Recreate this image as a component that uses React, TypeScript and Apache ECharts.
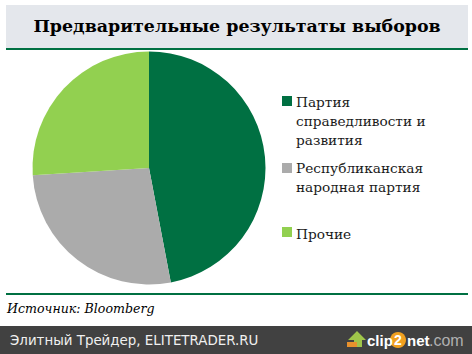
import React, { useEffect, useRef } from "react";
import * as echarts from "echarts";

const title = "Предварительные результаты выборов";
const source = "Источник: Bloomberg";
const footer = "Элитный Трейдер, ELITETRADER.RU";
const categories = ["Партия\nсправедливости и\nразвития", "Республиканская\nнародная партия\n", "Прочие"];
const values = [47, 27, 26];
const colors = ["#007042", "#ababab", "#92d050"];
const markerTops = [96, 163, 227];

export default function App() {
  const ref = useRef<HTMLDivElement>(null);
  useEffect(() => {
    document.body.style.margin = "0";
    const chart = echarts.init(ref.current!, null, { renderer: "svg" });
    chart.setOption({
      animation: false,
      backgroundColor: "#ffffff",
      color: colors,
      legend: {
        orient: "vertical",
        left: 282,
        top: 92,
        padding: 0,
        itemWidth: 9,
        itemHeight: 10,
        itemGap: 9,
        icon: "rect",
        itemStyle: { opacity: 0 },
        selectedMode: false,
        data: categories,
        align: "left",
        textStyle: { fontFamily: "DejaVu Serif", fontSize: 13.7, color: "#1a1a1a", lineHeight: 19 },
      },
      series: [
        {
          type: "pie",
          center: [149, 168],
          radius: [0, 116.5],
          startAngle: 90,
          clockwise: true,
          label: { show: false },
          labelLine: { show: false },
          silent: true,
          data: categories.map((name, i) => ({ name, value: values[i] })),
        },
      ],
      graphic: [
        { type: "rect", shape: { x: 6, y: 5, width: 462, height: 43 }, style: { fill: "#e4e7ec" } },
        { type: "rect", shape: { x: 6, y: 48, width: 462, height: 2 }, style: { fill: "#007042" } },
        { type: "rect", shape: { x: 6, y: 293, width: 462, height: 2 }, style: { fill: "#007042" } },
        ...markerTops.map((y, i) => ({ type: "rect", shape: { x: 282, y, width: 10, height: 10 }, style: { fill: colors[i] } })),
        { type: "text", x: 237, y: 26, style: { text: title, fill: "#000", font: "bold 17.4px 'DejaVu Serif'", align: "center", verticalAlign: "middle" } },
        { type: "text", x: 7, y: 308, style: { text: source, fill: "#000", font: "italic 12.6px 'DejaVu Serif'", align: "left", verticalAlign: "middle" } },
        { type: "rect", shape: { x: 0, y: 326, width: 472, height: 28 }, style: { fill: "#414141" } },
        { type: "text", x: 10, y: 340, style: { text: footer, fill: "#f0f0f0", font: "13.4px 'DejaVu Sans'", align: "left", verticalAlign: "middle" } },
        { type: "polygon", shape: { points: [[357, 331], [366, 340], [362, 340], [362, 347], [354, 347], [354, 340], [348, 340]] }, style: { fill: "#9fc54a" } },
        { type: "rect", shape: { x: 347, y: 342, width: 10, height: 5 }, style: { fill: "#e8912d" } },
        { type: "circle", shape: { cx: 398, cy: 340, r: 8 }, style: { fill: "#f0a020" } },
        { type: "text", x: 367, y: 340, style: { text: "clip", fill: "#ffffff", font: "bold 15px 'Liberation Sans'", align: "left", verticalAlign: "middle" } },
        { type: "text", x: 398, y: 340, style: { text: "2", fill: "#ffffff", font: "bold 14px 'Liberation Sans'", align: "center", verticalAlign: "middle" } },
        { type: "text", x: 407, y: 340, style: { text: "net", fill: "#ffffff", font: "bold 15px 'Liberation Sans'", align: "left", verticalAlign: "middle" } },
        { type: "text", x: 429, y: 340, style: { text: ".com", fill: "#b0b0b0", font: "16px 'Liberation Sans'", align: "left", verticalAlign: "middle" } },
      ],
    });
    return () => chart.dispose();
  }, []);
  return <div ref={ref} style={{ width: 472, height: 354 }} />;
}
